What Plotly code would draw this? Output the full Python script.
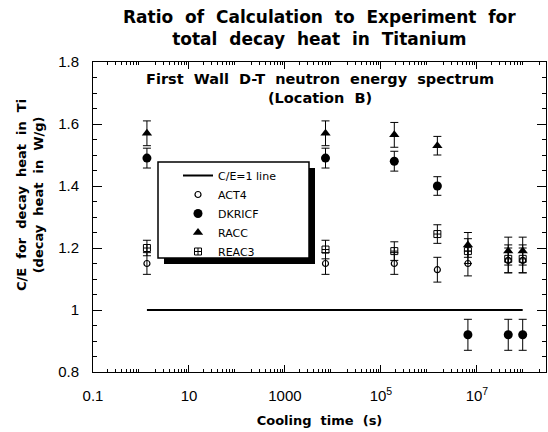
import plotly.graph_objects as go

# ---- data ----
cooling_time_s = [1.33, 7000, 1.9e5, 1.5e6, 6.5e6, 4.5e7, 9.0e7]

act4 = [1.15, 1.15, 1.15, 1.13, 1.15, 1.16, 1.16]
act4_err = [0.035, 0.035, 0.035, 0.04, 0.04, 0.04, 0.04]

dkricf = [1.49, 1.49, 1.48, 1.40, 0.92, 0.92, 0.92]
dkricf_err = [0.032, 0.032, 0.032, 0.03, 0.05, 0.05, 0.05]

racc = [1.57, 1.57, 1.565, 1.53, 1.21, 1.19, 1.19]
racc_err = [0.04, 0.04, 0.04, 0.03, 0.04, 0.045, 0.045]

reac3 = [1.20, 1.195, 1.19, 1.245, 1.19, 1.165, 1.165]
reac3_err = [0.025, 0.03, 0.03, 0.03, 0.04, 0.045, 0.045]

ce_line_x = [cooling_time_s[0], cooling_time_s[-1]]
ce_line_y = [1, 1]

x_tickvals = [0.1, 10, 1000, 1e5, 1e7]
x_ticktext = ["0.1", "10", "1000", "10<sup>5</sup>", "10<sup>7</sup>"]
y_tickvals = [0.8, 1.0, 1.2, 1.4, 1.6, 1.8]
y_ticktext = ["0.8", "1", "1.2", "1.4", "1.6", "1.8"]

# ---- figure ----
W, H = 548, 432
ml, mr, mt, mb = 93, 2, 62, 60

def err(vals):
    return dict(type="data", array=vals, visible=True, color="black",
                thickness=1, width=4)

fig = go.Figure()
fig.add_trace(go.Scatter(x=ce_line_x, y=ce_line_y, mode="lines",
                         name="C/E=1 line", line=dict(color="black", width=2)))
fig.add_trace(go.Scatter(x=cooling_time_s, y=act4, mode="markers", name="ACT4",
                         marker=dict(symbol="circle-open", size=6, color="black",
                                     line=dict(width=1.2, color="black")),
                         error_y=err(act4_err)))
fig.add_trace(go.Scatter(x=cooling_time_s, y=dkricf, mode="markers", name="DKRICF",
                         marker=dict(symbol="circle", size=9, color="black"),
                         error_y=err(dkricf_err)))
fig.add_trace(go.Scatter(x=cooling_time_s, y=racc, mode="markers", name="RACC",
                         marker=dict(symbol="triangle-up", size=9, color="black"),
                         error_y=err(racc_err)))
fig.add_trace(go.Scatter(x=cooling_time_s, y=reac3, mode="markers", name="REAC3",
                         marker=dict(symbol="square-cross-open", size=7, color="black",
                                     line=dict(width=1, color="black")),
                         error_y=err(reac3_err)))

pw = W - ml - mr
ph = H - mt - mb

def px(xp):
    return (xp - ml) / pw

def py(yp):
    return (H - mb - yp) / ph

x_minor = [m * 10 ** e for e in range(-1, 9) for m in range(2, 10)]

fig.update_layout(
    width=W, height=H,
    margin=dict(l=ml, r=mr, t=mt, b=mb, pad=0),
    paper_bgcolor="white", plot_bgcolor="white",
    font=dict(family="DejaVu Sans", color="black"),
    xaxis=dict(type="log", range=[-1, 8.44], showgrid=False, zeroline=False,
               showline=True, linecolor="black", linewidth=1, mirror="ticks",
               ticks="inside", ticklen=7, tickcolor="black",
               tickvals=x_tickvals, ticktext=x_ticktext, ticklabelstandoff=10,
               tickfont=dict(family="Liberation Sans", size=15),
               minor=dict(tickmode="array", tickvals=x_minor, ticks="inside",
                          ticklen=3, tickcolor="black", showgrid=False),
               title=dict(text="Cooling  time  (s)", standoff=12,
                          font=dict(family="DejaVu Sans", size=13, weight="bold"))),
    yaxis=dict(range=[0.8, 1.8], showgrid=False, zeroline=False,
               showline=True, linecolor="black", linewidth=1, mirror="ticks",
               ticks="inside", ticklen=9, tickcolor="black",
               tickvals=y_tickvals, ticktext=y_ticktext, ticklabelstandoff=10,
               tickfont=dict(family="Liberation Sans", size=15),
               minor=dict(dtick=0.05, ticks="inside", ticklen=4,
                          tickcolor="black", showgrid=False)),
    legend=dict(x=px(178), y=py(161), xanchor="left", yanchor="top",
                bgcolor="rgba(0,0,0,0)", borderwidth=0,
                font=dict(family="DejaVu Sans", size=11),
                tracegroupgap=0),
    showlegend=True,
)

# legend frame with drop shadow (as in the reference)
fig.add_shape(type="rect", xref="paper", yref="paper",
              x0=px(164), x1=px(315), y0=py(168), y1=py(264),
              fillcolor="black", line=dict(width=0), layer="above")
fig.add_shape(type="rect", xref="paper", yref="paper",
              x0=px(158), x1=px(309), y0=py(162), y1=py(258),
              fillcolor="white", line=dict(width=1.5, color="black"), layer="above")

fig.add_annotation(text="<b>Ratio  of  Calculation  to  Experiment  for<br>total  decay  heat  in  Titanium</b>",
                   xref="paper", yref="paper", x=0.5, y=py(5), yanchor="top",
                   showarrow=False,
                   font=dict(family="DejaVu Sans", size=17))
fig.add_annotation(text="First  Wall  D-T  neutron  energy  spectrum<br>(Location  B)",
                   xref="paper", yref="paper", x=0.5, y=py(69), yanchor="top",
                   showarrow=False,
                   font=dict(family="DejaVu Sans", size=14.5, weight="bold"))
fig.add_annotation(text="C/E  for  decay  heat  in  Ti<br>(decay  heat  in  W/g)",
                   xref="paper", yref="paper", x=px(30), y=py(195),
                   xanchor="center", yanchor="middle", textangle=-90,
                   showarrow=False,
                   font=dict(family="DejaVu Sans", size=13, weight="bold"))

fig.write_html("out.html")
